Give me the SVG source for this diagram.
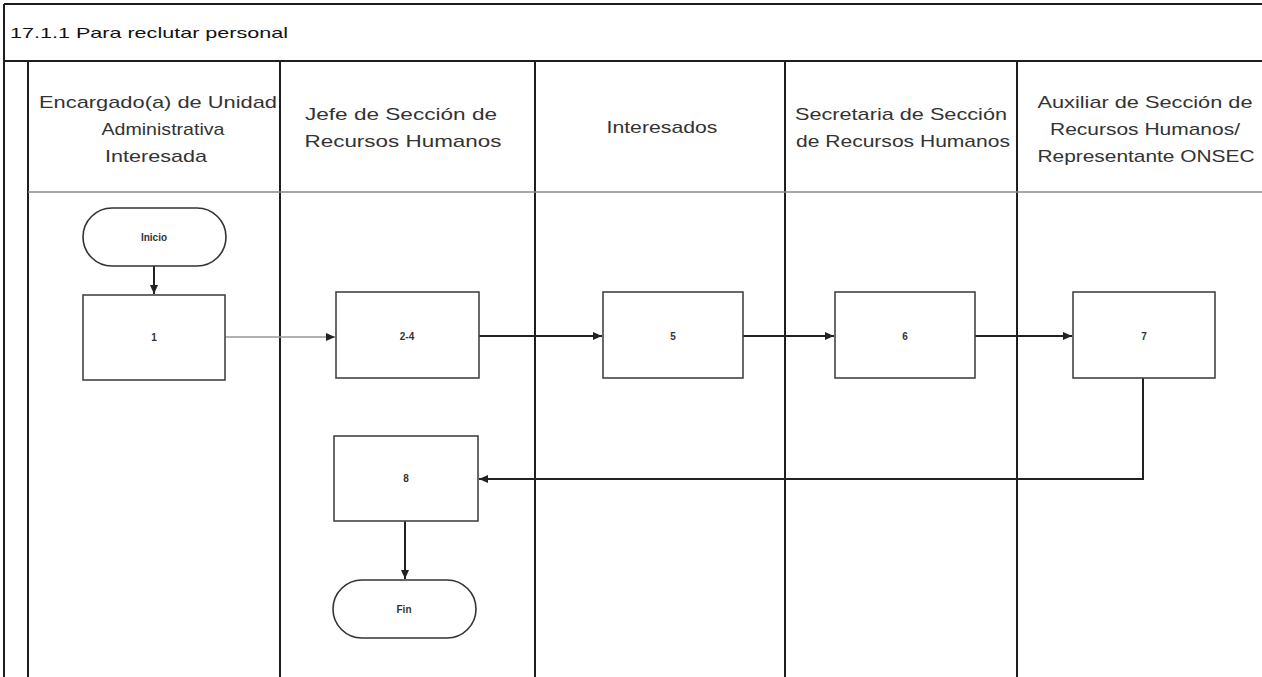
<svg xmlns="http://www.w3.org/2000/svg" width="1262" height="677" viewBox="0 0 1262 677">
<style>
.frame{stroke:#1e1e1e;stroke-width:2;fill:none}
.lane{stroke:#1e1e1e;stroke-width:2}
.thin{stroke:#888;stroke-width:1.5}
.hdr{font-family:"Liberation Sans",Arial,sans-serif;font-size:17px;fill:#333;text-anchor:middle}
.ttl{font-family:"Liberation Sans",Arial,sans-serif;font-size:15px;fill:#111}
.box{fill:#fff;stroke:#444;stroke-width:1.6}
.term{fill:#fff;stroke:#333;stroke-width:1.6}
.lbl{font-family:"Liberation Sans",Arial,sans-serif;font-size:10px;font-weight:bold;fill:#333;text-anchor:middle}
.con{stroke:#222;stroke-width:2;fill:none}
.con2{stroke:#999;stroke-width:1.5;fill:none}
</style>
<defs>
<marker id="ah" markerWidth="10" markerHeight="10" refX="9" refY="5" orient="auto" markerUnits="userSpaceOnUse">
<path d="M0,1 L9,5 L0,9 z" fill="#222"/>
</marker>
</defs>
<rect width="1262" height="677" fill="#fff"/>
<g id="frame">
<line class="frame" x1="4" y1="4" x2="1262" y2="4"/>
<line class="frame" x1="4" y1="4" x2="4" y2="677"/>
<line class="frame" x1="4" y1="61" x2="1262" y2="61"/>
<line class="lane" x1="28" y1="61" x2="28" y2="677"/>
<line class="lane" x1="280" y1="61" x2="280" y2="677"/>
<line class="lane" x1="535" y1="61" x2="535" y2="677"/>
<line class="lane" x1="785" y1="61" x2="785" y2="677"/>
<line class="lane" x1="1017" y1="61" x2="1017" y2="677"/>
<line class="thin" x1="28" y1="192" x2="1262" y2="192"/>
<text class="ttl" x="10" y="38" textLength="278" lengthAdjust="spacingAndGlyphs">17.1.1 Para reclutar personal</text>
</g>
<g id="headers">
<text class="hdr" x="158" y="108" textLength="238" lengthAdjust="spacingAndGlyphs">Encargado(a) de Unidad</text>
<text class="hdr" x="163" y="135" textLength="123" lengthAdjust="spacingAndGlyphs">Administrativa</text>
<text class="hdr" x="156" y="162" textLength="102" lengthAdjust="spacingAndGlyphs">Interesada</text>
<text class="hdr" x="401" y="120" textLength="192" lengthAdjust="spacingAndGlyphs">Jefe de Sección de</text>
<text class="hdr" x="403" y="147" textLength="197" lengthAdjust="spacingAndGlyphs">Recursos Humanos</text>
<text class="hdr" x="662" y="133" textLength="111" lengthAdjust="spacingAndGlyphs">Interesados</text>
<text class="hdr" x="901" y="120" textLength="212" lengthAdjust="spacingAndGlyphs">Secretaria de Sección</text>
<text class="hdr" x="903" y="147" textLength="214" lengthAdjust="spacingAndGlyphs">de Recursos Humanos</text>
<text class="hdr" x="1145" y="108" textLength="215" lengthAdjust="spacingAndGlyphs">Auxiliar de Sección de</text>
<text class="hdr" x="1145" y="135" textLength="190" lengthAdjust="spacingAndGlyphs">Recursos Humanos/</text>
<text class="hdr" x="1146" y="162" textLength="217" lengthAdjust="spacingAndGlyphs">Representante ONSEC</text>
</g>
<g id="connectors">
<line class="con" x1="154" y1="266" x2="154" y2="294" marker-end="url(#ah)"/>
<line class="con2" x1="225" y1="337" x2="335" y2="337" marker-end="url(#ah)"/>
<line class="con" x1="479" y1="336" x2="602" y2="336" marker-end="url(#ah)"/>
<line class="con" x1="743" y1="336" x2="834" y2="336" marker-end="url(#ah)"/>
<line class="con" x1="975" y1="336" x2="1072" y2="336" marker-end="url(#ah)"/>
<polyline class="con" points="1143,378 1143,479 479,479" marker-end="url(#ah)"/>
<line class="con" x1="405" y1="521" x2="405" y2="579" marker-end="url(#ah)"/>
</g>
<g id="n-inicio">
<rect class="term" x="83" y="208" width="143" height="58" rx="29"/>
<text class="lbl" x="154" y="241">Inicio</text>
</g>
<g id="n1">
<rect class="box" x="83" y="295" width="142" height="85"/>
<text class="lbl" x="154" y="341">1</text>
</g>
<g id="n2-4">
<rect class="box" x="336" y="292" width="143" height="86"/>
<text class="lbl" x="407" y="340">2-4</text>
</g>
<g id="n5">
<rect class="box" x="603" y="292" width="140" height="86"/>
<text class="lbl" x="673" y="340">5</text>
</g>
<g id="n6">
<rect class="box" x="835" y="292" width="140" height="86"/>
<text class="lbl" x="905" y="340">6</text>
</g>
<g id="n7">
<rect class="box" x="1073" y="292" width="142" height="86"/>
<text class="lbl" x="1144" y="340">7</text>
</g>
<g id="n8">
<rect class="box" x="334" y="436" width="144" height="85"/>
<text class="lbl" x="406" y="482">8</text>
</g>
<g id="n-fin">
<rect class="term" x="333" y="580" width="143" height="58" rx="29"/>
<text class="lbl" x="404" y="613">Fin</text>
</g>
</svg>
